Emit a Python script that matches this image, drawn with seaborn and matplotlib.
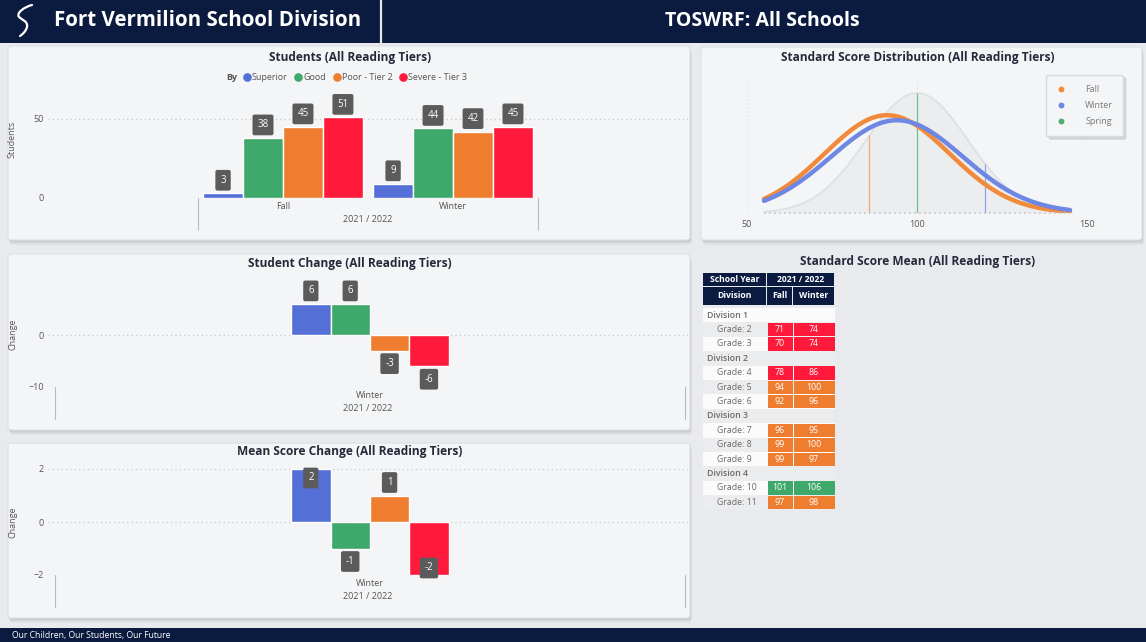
import numpy as np
import pandas as pd
import matplotlib.pyplot as plt
import matplotlib.patches as mpatches
import matplotlib.transforms as mtransforms
from matplotlib.path import Path
from matplotlib.lines import Line2D
import seaborn as sns

# ---- data ----
tiers = ["Superior", "Good", "Poor - Tier 2", "Severe - Tier 3"]
tier_colors = ["#5470d6", "#3fa86b", "#ef7d30", "#ff1a3b"]
periods = ["Fall", "Winter"]
students_fall = [3, 38, 45, 51]
students_winter = [9, 44, 42, 45]
change_period = "Winter"
student_change = [6, 6, -3, -6]
mean_change = [2, -1, 1, -2]
school_year = "2021 / 2022"

seasons = ["Fall", "Winter", "Spring"]
season_colors = ["#f28a3c", "#6d87e2", "#4caf6e"]
season_means = [91.2, 94.1]
season_sds = [18.4, 19.4]
norm_mean, norm_sd = 100, 15
ref_scores = [86, 100, 120]
ref_colors = ["#f3a77a", "#6fbf87", "#8fa3ea"]

table_rows = ["Division 1", "Grade: 2", "Grade: 3", "Division 2", "Grade: 4", "Grade: 5",
              "Grade: 6", "Division 3", "Grade: 7", "Grade: 8", "Grade: 9", "Division 4",
              "Grade: 10", "Grade: 11"]
fall_means = [None, 71, 70, None, 78, 94, 92, None, 96, 99, 99, None, 101, 97]
winter_means = [None, 74, 74, None, 86, 100, 96, None, 95, 100, 97, None, 106, 98]

W, H = 1146, 642
NAVY = "#0b1a3f"
CARD = "#f4f5f7"
TITLE = "#252a3a"
LBL = "#555555"
GRID = "#c3c6cb"

sns.set_theme(style="white")
plt.rcParams["font.family"] = ["Open Sans", "DejaVu Sans"]

fig = plt.figure(figsize=(W / 100, H / 100), dpi=100, facecolor="#e8eaee")


def px_axes(x0, y0, x1, y1):
    ax = fig.add_axes([x0 / W, 1 - y1 / H, (x1 - x0) / W, (y1 - y0) / H])
    ax.set_facecolor("none")
    for s in ax.spines.values():
        s.set_visible(False)
    return ax


bg = fig.add_axes([0, 0, 1, 1], zorder=-5)
bg.set_xlim(0, W)
bg.set_ylim(H, 0)
bg.axis("off")


def card(x0, y0, x1, y1):
    for d, a in [(5, 0.18), (3, 0.3), (1.5, 0.4)]:
        bg.add_patch(mpatches.FancyBboxPatch((x0 + d * 0.4, y0 + d), x1 - x0, y1 - y0,
                                             boxstyle="round,pad=0,rounding_size=3",
                                             fc="#b5b8bf", ec="none", alpha=a))
    bg.add_patch(mpatches.FancyBboxPatch((x0, y0), x1 - x0, y1 - y0,
                                         boxstyle="round,pad=0,rounding_size=3",
                                         fc=CARD, ec="#dcdee2", lw=0.8))


def title(x, y, s):
    bg.text(x, y, s, ha="center", va="center", fontsize=8.6, fontweight="bold", color=TITLE)


def add_labels(ax, off=13, inside_at=None):
    for cont in ax.containers:
        for bar in cont:
            v = bar.get_height()
            x = bar.get_x() + bar.get_width() / 2
            dy = off if v >= 0 else -off
            if inside_at is not None and abs(v) >= inside_at:
                dy = -9 if v > 0 else 7
            ax.annotate(f"{v:.0f}", (x, v), xytext=(0, dy), textcoords="offset pixels",
                        ha="center", va="center", color="white", fontsize=7,
                        annotation_clip=False, zorder=5,
                        bbox=dict(boxstyle="round,pad=0.5,rounding_size=0.2", fc="#5b5b5b", ec="none"))


def style_bar_axes(ax, xlim, ylim, yticks, ylabel, label_y):
    ax.set_xlim(*xlim)
    ax.set_ylim(*ylim)
    ax.set_yticks(yticks)
    ax.set_axisbelow(True)
    ax.grid(axis="y", ls=(0, (1, 2.5)), color=GRID, lw=0.9)
    ax.grid(axis="x", visible=False)
    ax.tick_params(axis="both", length=0, labelsize=6.5, labelcolor=LBL, pad=3)
    ax.set_xlabel(school_year, fontsize=6.5, color=LBL, labelpad=3)
    ax.set_ylabel(ylabel, fontsize=6.5, color=LBL)
    ax.yaxis.set_label_coords(-31 / 640, label_y)
    # category boundary lines below the plot
    h_px = ax.get_position().height * H
    trans = mtransforms.blended_transform_factory(ax.transData, ax.transAxes)
    ncat = len(ax.get_xticks())
    for xb in [-0.5, ncat - 0.5]:
        ax.plot([xb, xb], [0, -32 / h_px], transform=trans, clip_on=False, color="#b8bbc0", lw=0.8)


# ---- header / footer ----
bg.add_patch(mpatches.Rectangle((0, 0), W, 42.5, fc=NAVY, ec="none"))
bg.plot([381, 381], [0, 42.5], color="#e6e8ee", lw=1.6)
logo = Path([(32, 5), (24, 7), (16, 13), (19, 17), (22, 20), (28, 21), (27, 27),
             (26, 31), (23, 34), (20, 36)],
            [Path.MOVETO] + [Path.CURVE4] * 9)
bg.add_patch(mpatches.PathPatch(logo, fill=False, ec="white", lw=1.6, capstyle="round"))
bg.text(54, 21, "Fort Vermilion School Division", color="white", fontsize=14.8, fontweight="bold",
        ha="left", va="center")
bg.text(762, 21, "TOSWRF: All Schools", color="white", fontsize=14, fontweight="bold",
        ha="center", va="center")
bg.add_patch(mpatches.Rectangle((0, 628), W, 14, fc=NAVY, ec="none"))
bg.text(12, 635.5, "Our Children, Our Students, Our Future", color="white", fontsize=6.2,
        ha="left", va="center")

# ---- Students (All Reading Tiers) ----
card(8, 46, 690, 240)
title(350, 57, "Students (All Reading Tiers)")
df1 = pd.DataFrame({"Period": np.repeat(periods, len(tiers)),
                    "Tier": tiers * len(periods),
                    "Students": students_fall + students_winter})
ax1 = px_axes(48, 100, 688, 198)
sns.barplot(data=df1, x="Period", y="Students", hue="Tier", hue_order=tiers, palette=tier_colors,
            width=0.94, saturation=1, legend=False, ax=ax1)
style_bar_axes(ax1, (-1.382, 2.382), (0, 62), [0, 50], "Students", 0.6)
add_labels(ax1)
bg.text(232, 78, "By", fontsize=6.5, fontweight="bold", color=LBL, ha="center", va="center")
handles = [Line2D([], [], ls="", marker="o", markersize=5.2, color=c) for c in tier_colors]
fig.legend(handles, tiers, loc="center left", bbox_to_anchor=(243 / W, 1 - 78 / H), ncol=4,
           frameon=False, fontsize=6.5, labelcolor=LBL, handlelength=0.8, handletextpad=0.15,
           columnspacing=0.8, borderpad=0, borderaxespad=0)

# ---- Student Change ----
card(8, 254, 690, 430)
title(350, 264, "Student Change (All Reading Tiers)")
df2 = pd.DataFrame({"Period": [change_period] * len(tiers), "Tier": tiers, "Change": student_change})
ax2 = px_axes(48, 280, 688, 387)
sns.barplot(data=df2, x="Period", y="Change", hue="Tier", hue_order=tiers, palette=tier_colors,
            width=0.25, saturation=1, legend=False, ax=ax2)
style_bar_axes(ax2, (-0.511, 0.505), (-10, 10.6), [-10, 0], "Change", 0.49)
add_labels(ax2)

# ---- Mean Score Change ----
card(8, 443, 690, 618)
title(350, 452, "Mean Score Change (All Reading Tiers)")
df3 = pd.DataFrame({"Period": [change_period] * len(tiers), "Tier": tiers, "Change": mean_change})
ax3 = px_axes(48, 469, 688, 575)
sns.barplot(data=df3, x="Period", y="Change", hue="Tier", hue_order=tiers, palette=tier_colors,
            width=0.25, saturation=1, legend=False, ax=ax3)
style_bar_axes(ax3, (-0.511, 0.505), (-2, 2), [-2, 0, 2], "Change", 0.5)
add_labels(ax3, off=13, inside_at=2)

# ---- Standard Score Distribution ----
card(701, 47, 1142, 240)
title(918, 57, "Standard Score Distribution (All Reading Tiers)")
ax4 = px_axes(747, 80, 1087, 213)
x_grid = np.linspace(norm_mean - 3 * norm_sd, norm_mean + 3 * norm_sd, 300)


def normal_pdf(x, m, s):
    return np.exp(-0.5 * ((x - m) / s) ** 2) / (s * np.sqrt(2 * np.pi))


ref_curve = normal_pdf(x_grid, norm_mean, norm_sd)
ax4.fill_between(x_grid, 0, ref_curve, color="#e9eaed", alpha=0.7, lw=0)
ax4.plot(x_grid, ref_curve, color="#dedfe1", lw=1.2)
ax4.vlines(ref_scores, 0, normal_pdf(np.array(ref_scores), norm_mean, norm_sd), colors=ref_colors, lw=0.9)
df4 = pd.concat([pd.DataFrame({"Season": s, "Score": x_grid, "Density": normal_pdf(x_grid, m, sd)})
                 for s, m, sd in zip(seasons, season_means, season_sds)])
sns.lineplot(data=df4, x="Score", y="Density", hue="Season", hue_order=seasons[:2],
             palette=season_colors[:2], lw=3.2, legend=False, ax=ax4)
ax4.hlines(0, x_grid.min(), x_grid.max(), colors=GRID, ls=(0, (1, 2)), lw=1.2, clip_on=False)
ax4.set_xlim(50, 150)
ax4.set_ylim(0, 0.02948)
ax4.set_xticks([50, 100, 150])
ax4.set_yticks([])
ax4.grid(axis="x", ls=(0, (1, 2.5)), color="#dcdee2", lw=0.8)
ax4.grid(axis="y", visible=False)
ax4.tick_params(axis="x", length=0, labelsize=6.5, labelcolor=LBL, pad=5)
ax4.set_xlabel("")
ax4.set_ylabel("")
leg_handles = [Line2D([], [], ls="", marker="o", markersize=3.2, color=c) for c in season_colors]
fig.legend(leg_handles, seasons, loc="upper right", bbox_to_anchor=(1123 / W, 1 - 75 / H),
           frameon=True, fontsize=6.5, labelcolor="#7a7a7a", handlelength=1, handletextpad=2.2,
           labelspacing=0.8, borderpad=1.1, borderaxespad=0, facecolor="#f4f5f7", edgecolor="#d6d8dc",
           framealpha=1, fancybox=True, shadow={"ox": 2, "oy": -2, "color": "#c4c6cb", "alpha": 0.6})

# ---- Standard Score Mean table ----
bg.text(918, 262, "Standard Score Mean (All Reading Tiers)", ha="center", va="center",
        fontsize=8.6, fontweight="bold", color=TITLE)
col_x = [703, 767, 793, 835]
head_cells = [((703, 273, 63, 13), "School Year"), ((767, 273, 67, 13), school_year),
              ((703, 287, 63, 18), "Division"), ((767, 287, 25, 18), "Fall"),
              ((793, 287, 41, 18), "Winter")]
for (x, y, w, h), s in head_cells:
    bg.add_patch(mpatches.Rectangle((x, y), w, h, fc=NAVY, ec="none"))
    bg.text(x + w / 2, y + h / 2, s, ha="center", va="center", fontsize=6.2,
            fontweight="bold", color="white")

row_h = 14.4
red, orange, green = tier_colors[3], tier_colors[2], tier_colors[1]


def score_color(v):
    if v < 90:
        return red
    return orange if v <= 100 else green


for i, (name, f, wv) in enumerate(zip(table_rows, fall_means, winter_means)):
    y0 = 308 + i * row_h
    bg.add_patch(mpatches.Rectangle((703, y0), 132, row_h, fc="#fbfbfc" if i % 2 == 0 else "#ebecee", ec="none"))
    if f is None:
        bg.text(707, y0 + row_h / 2, name, ha="left", va="center", fontsize=6.3,
                fontweight="semibold", color="#6a6a6a")
        continue
    bg.text(717, y0 + row_h / 2, name, ha="left", va="center", fontsize=6.3, color="#6a6a6a")
    for j, v in enumerate([f, wv]):
        x0, x1 = col_x[j + 1], col_x[j + 2]
        bg.add_patch(mpatches.Rectangle((x0 + 0.5, y0 + 0.5), x1 - x0 - 1, row_h - 1,
                                        fc=score_color(v), ec="none"))
        bg.text((x0 + x1) / 2, y0 + row_h / 2, str(v), ha="center", va="center",
                fontsize=6.3, color="white")

fig.savefig("out.png", dpi=100, facecolor=fig.get_facecolor())
